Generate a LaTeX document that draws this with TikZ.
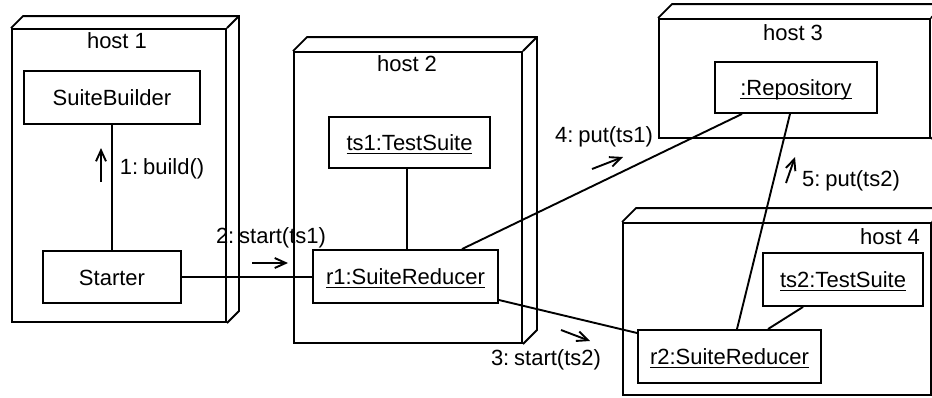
\documentclass[tikz,border=0pt]{standalone}
\usepackage{fontspec}
\setmainfont{Liberation Sans}
\usetikzlibrary{arrows.meta}
\newcommand\uln[1]{\underline{\smash{#1}}}
\begin{document}
\begin{tikzpicture}[x=0.5pt,y=-0.5pt,line width=0.95pt,
  every node/.style={font=\fontsize{11pt}{13pt}\selectfont},
  obj/.style={draw,rectangle,inner sep=0pt,text height=8pt,text depth=0pt},
  hostbox/.style={draw,rectangle,inner sep=0pt},
  lbl/.style={inner sep=0pt},
  msg/.style={-{Straight Barb[length=5.5pt,width=5pt]}},
  link/.style={}]
\clip (0,0) rectangle (932,397);
% hosts
\node[hostbox,minimum width=107pt,minimum height=146.5pt] (h1) at (119,175.5) {};
\node[hostbox,minimum width=114pt,minimum height=145.5pt] (h2) at (408,197.5) {};
\node[hostbox,minimum width=135.5pt,minimum height=59.5pt] (h3) at (794.5,78.5) {};
\node[hostbox,minimum width=154pt,minimum height=86pt] (h4) at (777,309) {};
\foreach \h/\d in {h1/12,h2/14,h3/14,h4/14}{
  \draw (\h.north west) -- ++(\d,-\d) -| ([shift={(\d,-\d)}]\h.south east) -- (\h.south east);
  \draw (\h.north east) -- ++(\d,-\d);
}
\node[lbl] (h1l) at (117,41) {host 1};
\node[lbl] (h2l) at (407,64) {host 2};
\node[lbl] (h3l) at (793,33) {host 3};
\node[lbl] (h4l) at (890,237) {host 4};
% objects
\node[obj,minimum width=88pt,minimum height=26.5pt] (sb) at (112,97.5) {SuiteBuilder};
\node[obj,minimum width=69pt,minimum height=26pt] (st) at (112,277) {Starter};
\node[obj,minimum width=80.5pt,minimum height=25.5pt] (ts1) at (409.5,142.5) {\uln{ts1:TestSuite}};
\node[obj,minimum width=92.5pt,minimum height=26.5pt] (r1) at (405.5,276.5) {\uln{r1:SuiteReducer}};
\node[obj,minimum width=81pt,minimum height=25.5pt] (rep) at (796,87.5) {\uln{:Repository}};
\node[obj,minimum width=80pt,minimum height=26.5pt] (ts2) at (843,279.5) {\uln{ts2:TestSuite}};
\node[obj,minimum width=91.5pt,minimum height=26.5pt] (r2) at (729.5,356.5) {\uln{r2:SuiteReducer}};
% links
\draw[link] (sb.south) -- (st.north);
\draw[link] (st.east) -- (r1.west |- st.east);
\draw[link] ([xshift=0.75pt]r1.north) -- ([xshift=0.75pt]r1.north |- ts1.south);
\draw[link] ([xshift=28.25pt]r1.north) -- ([xshift=-27pt]rep.south);
\draw[link] ([yshift=-11.75pt]r1.east) -- ([yshift=11.75pt]r2.west);
\draw[link] ([xshift=-3pt]rep.south) -- ([xshift=3.75pt]r2.north);
\draw[link] ([xshift=-20pt]ts2.south) -- ([xshift=19.25pt]r2.north);
% messages
\coordinate (m1a) at (101,182); \coordinate (m1b) at (101,148);
\coordinate (m2a) at (252,263); \coordinate (m2b) at (288,263);
\coordinate (m4a) at (592,169); \coordinate (m4b) at (623,157);
\coordinate (m3a) at (561,330); \coordinate (m3b) at (590,341);
\coordinate (m5a) at (786,183); \coordinate (m5b) at (795,157);
\draw[msg] (m1a) -- (m1b);
\draw[msg] (m2a) -- (m2b);
\draw[msg] (m4a) -- (m4b);
\draw[msg] (m3a) -- (m3b);
\draw[msg] (m5a) -- (m5b);
\node[lbl,anchor=west] (l1) at (119,169) {1:\hspace{0.22em}build()};
\node[lbl] (l2) at (271,238) {2:\hspace{0.22em}start(ts1)};
\node[lbl] (l4) at (604,137) {4:\hspace{0.22em}put(ts1)};
\node[lbl] (l3) at (546,360) {3:\hspace{0.22em}start(ts2)};
\node[lbl] (l5) at (851,181) {5:\hspace{0.22em}put(ts2)};
\end{tikzpicture}
\end{document}
